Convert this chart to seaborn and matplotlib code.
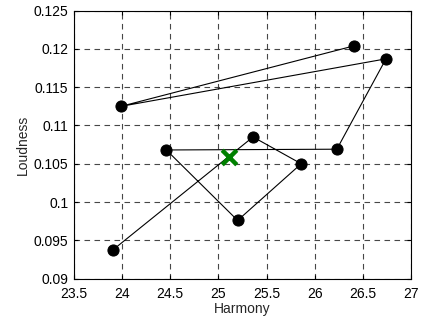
import matplotlib
matplotlib.use("Agg")
import matplotlib.pyplot as plt
import seaborn as sns
import pandas as pd

# path of points, in drawing order
harmony = [23.91, 25.36, 25.86, 25.20, 24.46, 26.23, 26.74, 23.99, 26.41]
loudness = [0.0938, 0.1085, 0.1050, 0.0976, 0.1068, 0.1069, 0.1187, 0.1125, 0.1204]

# centroid marker
centre_x = [25.11]
centre_y = [0.1059]

x_ticks = [23.5, 24, 24.5, 25, 25.5, 26, 26.5, 27]
y_ticks = [0.09, 0.095, 0.1, 0.105, 0.11, 0.115, 0.12, 0.125]

sns.set_style("white")
plt.rcParams["font.family"] = ["Liberation Sans", "DejaVu Sans"]

df = pd.DataFrame({"Harmony": harmony, "Loudness": loudness})

fig = plt.figure(figsize=(4.22, 3.21), dpi=100)
ax = fig.add_axes([0.175, 0.132, 0.799, 0.835])

sns.lineplot(data=df, x="Harmony", y="Loudness", sort=False, ax=ax,
             color="black", linewidth=0.8, marker="o", markersize=8,
             markeredgecolor="black", markerfacecolor="black")
sns.scatterplot(x=centre_x, y=centre_y, ax=ax, marker="x", s=110,
                color="#008000", linewidth=3.2, zorder=5)

ax.set_xlim(23.5, 27)
ax.set_ylim(0.09, 0.125)
ax.set_xticks(x_ticks)
ax.set_yticks(y_ticks)
ax.set_xticklabels([f"{t:g}" for t in x_ticks])
ax.set_yticklabels([f"{t:g}" for t in y_ticks])

ax.grid(True, color="#333333", linestyle=(0, (5, 4)), linewidth=0.8, alpha=0.9)
ax.tick_params(direction="in", length=3, labelsize=10, top=True, right=True,
               bottom=True, left=True, colors="black")
ax.tick_params(axis="x", pad=6)
ax.tick_params(axis="y", pad=4)
for s in ax.spines.values():
    s.set_color("black")
    s.set_linewidth(0.8)

ax.set_xlabel("Harmony", fontsize=10, labelpad=1)
ax.set_ylabel("Loudness", fontsize=10, labelpad=3)

fig.savefig("out.png", dpi=100)
